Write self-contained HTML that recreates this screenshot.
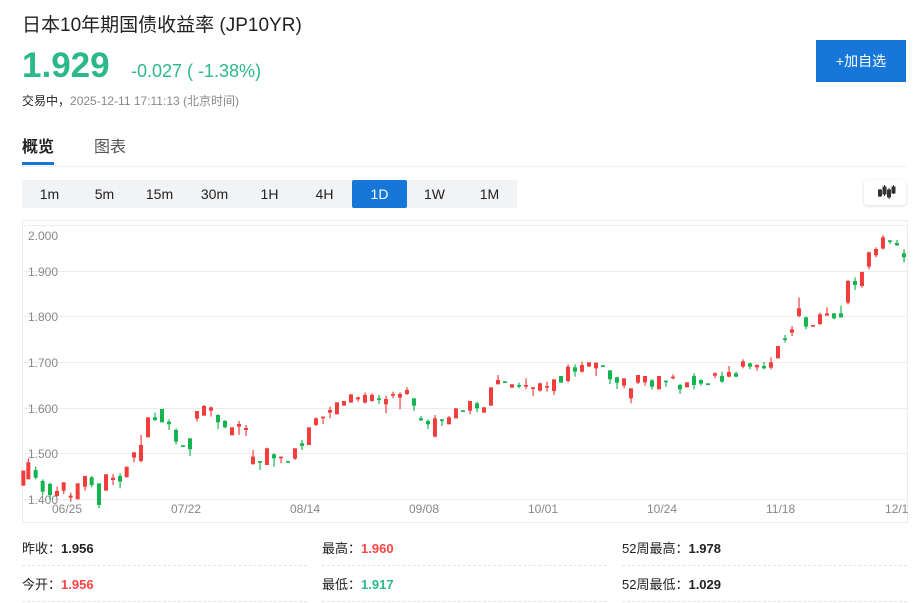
<!DOCTYPE html>
<html><head><meta charset="utf-8">
<style>
*{margin:0;padding:0;box-sizing:border-box}
body{width:924px;height:603px;background:#fff;font-family:"Liberation Sans","Noto Sans CJK SC",sans-serif;position:relative;overflow:hidden;color:#222}
.a{position:absolute;white-space:nowrap}
.tf{position:absolute;top:180px;height:28px;width:55px;background:#f2f3f5;text-align:center;line-height:28px;font-size:14px;color:#222}
.tf.on{background:#1677d9;color:#fff;border-radius:2px}
.lab{font-size:13px;color:#222}
.lab b{font-weight:bold}
.dl{position:absolute;height:0;border-top:1px dashed #e3e3e3;width:285px}
</style></head><body>
<div class="a" style="left:22px;top:10px;font-size:19px;color:#222">日本10年期国债收益率 (JP10YR)</div>
<div class="a" style="left:22px;top:46px;font-size:35px;font-weight:bold;color:#2cb88a">1.929</div>
<div class="a" style="left:131px;top:61px;font-size:18px;color:#2cb88a">-0.027 ( -1.38%)</div>
<div class="a" style="left:22px;top:92px;font-size:12px;color:#222">交易中，<span style="color:#888">2025-12-11 17:11:13 (北京时间)</span></div>
<div class="a" style="left:816px;top:40px;width:90px;height:42px;background:#1677d9;color:#fff;font-size:14px;text-align:center;line-height:42px">+加自选</div>
<div class="a" style="left:22px;top:133px;font-size:16px;font-weight:bold;color:#222">概览</div>
<div class="a" style="left:22px;top:162px;width:32px;height:3px;background:#1677d9"></div>
<div class="a" style="left:94px;top:133px;font-size:16px;color:#555">图表</div>
<div class="a" style="left:22px;top:166px;width:884px;height:1px;background:#eef0f2"></div>
<div class="tf" style="left:22px">1m</div><div class="tf" style="left:77px">5m</div><div class="tf" style="left:132px">15m</div><div class="tf" style="left:187px">30m</div><div class="tf" style="left:242px">1H</div><div class="tf" style="left:297px">4H</div><div class="tf on" style="left:352px">1D</div><div class="tf" style="left:407px">1W</div><div class="tf" style="left:462px">1M</div>
<div class="a" style="left:864px;top:180px;width:42px;height:25px;background:#fff;border-radius:3px;box-shadow:0 1px 3px rgba(0,0,0,.15)">
<svg width="42" height="25"><g fill="#333" stroke="#333" stroke-width="1"><line x1="16" y1="9" x2="16" y2="17"/><rect x="14.5" y="10" width="3" height="6"/><line x1="20.5" y1="5" x2="20.5" y2="16"/><rect x="19" y="7" width="3" height="7"/><line x1="25" y1="8" x2="25" y2="19"/><rect x="23.5" y="10" width="3" height="7"/><line x1="29.5" y1="5" x2="29.5" y2="14"/><rect x="28" y="7" width="3" height="6"/></g></svg></div>
<svg class="a" style="left:0;top:0" width="924" height="603" id="ch">
<rect x="22.5" y="220.5" width="885" height="302" fill="none" stroke="#ececec"/>
<g stroke="#ececec" stroke-width="1">
<line x1="23" x2="907" y1="225.5" y2="225.5"/><line x1="23" x2="907" y1="271.5" y2="271.5"/><line x1="23" x2="907" y1="316.5" y2="316.5"/><line x1="23" x2="907" y1="362.5" y2="362.5"/><line x1="23" x2="907" y1="408.5" y2="408.5"/><line x1="23" x2="907" y1="453.5" y2="453.5"/><line x1="23" x2="907" y1="499.5" y2="499.5"/>
</g>
<g font-size="12" fill="#888" font-family="Liberation Sans,sans-serif">
<text x="28" y="240">2.000</text><text x="28" y="276">1.900</text><text x="28" y="321">1.800</text><text x="28" y="367">1.700</text><text x="28" y="413">1.600</text><text x="28" y="458">1.500</text><text x="28" y="504">1.400</text>
<text x="52" y="513">06/25</text><text x="171" y="513">07/22</text><text x="290" y="513">08/14</text><text x="409" y="513">09/08</text><text x="528" y="513">10/01</text><text x="647" y="513">10/24</text><text x="766" y="513">11/18</text><text x="885" y="513">12/1</text>
</g>
<g id="c1" transform="translate(20,220) scale(0.3333)"></g>
<g id="c2" transform="translate(460,220) scale(0.3333)"></g>
</svg>
<div class="a lab" style="left:22px;top:538px">昨收：<b>1.956</b></div>
<div class="a lab" style="left:322px;top:538px">最高：<b style="color:#f44">1.960</b></div>
<div class="a lab" style="left:622px;top:538px">52周最高：<b>1.978</b></div>
<div class="a lab" style="left:22px;top:574px">今开：<b style="color:#f44">1.956</b></div>
<div class="a lab" style="left:322px;top:574px">最低：<b style="color:#2cb88a">1.917</b></div>
<div class="a lab" style="left:622px;top:574px">52周最低：<b>1.029</b></div>
<div class="dl" style="left:22px;top:565px"></div><div class="dl" style="left:322px;top:565px"></div><div class="dl" style="left:622px;top:565px"></div>
<div class="dl" style="left:22px;top:601px"></div><div class="dl" style="left:322px;top:601px"></div><div class="dl" style="left:622px;top:601px"></div>
<script>
var A=[[10,'r',752,797,752,797],[25,'r',727,778,715,778],[47,'g',750,773,740,778],[68,'g',783,815,778,825],[90,'g',792,825,788,840],[111,'r',813,828,800,830],[131,'r',787,812,787,822],[152,'r',827,833,818,845],[173,'r',790,838,790,838],[195,'r',768,800,768,812],[215,'g',772,795,768,802],[237,'g',790,855,790,865],[258,'r',763,812,763,812],[279,'r',773,780,762,795],[300,'g',768,785,760,805],[320,'r',740,772,740,772],[342,'r',697,713,697,727],[363,'r',675,723,645,727],[384,'r',592,652,592,652],[405,'g',592,600,578,603],[426,'g',567,607,567,607],[447,'g',605,613,598,630],[468,'g',630,665,625,673],[489,'g',676,677,676,677],[510,'g',655,688,655,708],[531,'r',573,596,573,605],[552,'r',558,587,555,587],[573,'r',562,572,560,590],[594,'g',585,607,583,628],[615,'g',603,622,600,625],[636,'r',622,646,622,646],[657,'r',612,620,603,645],[678,'r',624,630,615,648],[699,'r',710,733,690,733],[720,'g',723,724,723,750],[741,'r',685,735,683,735],[762,'g',703,715,700,740],[783,'r',710,711,710,730],[804,'g',723,724,723,724],[825,'r',685,716,685,720],[846,'g',670,678,660,690],[867,'r',622,675,622,675],[888,'r',595,615,592,618],[909,'r',590,591,590,612],[930,'r',570,578,560,595],[951,'r',547,583,547,583],[972,'r',543,557,543,557],[993,'r',523,548,523,548],[1014,'r',532,538,530,545],[1035,'r',525,548,518,550],[1056,'r',525,543,520,545],[1077,'g',535,540,525,552],[1098,'r',537,553,527,580],[1119,'r',522,523,515,535],[1140,'r',522,533,517,568],[1161,'r',510,522,502,525],[1182,'g',535,557,535,573],[1203,'g',595,601,588,603],[1224,'g',603,613,598,627],[1245,'r',595,650,585,652],[1266,'g',598,599,598,618],[1287,'r',592,613,588,613],[1308,'r',565,595,565,595],[1329,'g',571,572,571,572]];
var B=[[30,'r',543,572,543,583],[51,'g',550,565,545,577],[72,'r',562,578,562,578],[93,'r',502,557,502,557],[114,'r',480,493,465,493],[135,'g',484,485,484,485],[156,'r',493,503,493,503],[177,'g',495,500,488,505],[198,'r',495,500,475,508],[219,'r',502,507,502,528],[240,'r',490,512,488,515],[261,'r',498,503,485,515],[282,'r',478,513,478,525],[303,'g',468,488,468,488],[324,'r',440,483,433,488],[345,'g',442,455,433,470],[366,'r',435,455,425,458],[387,'r',427,440,427,440],[408,'r',428,445,428,468],[429,'g',436,437,436,437],[450,'g',451,478,451,492],[471,'g',472,488,470,507],[492,'r',475,497,475,505],[513,'r',505,535,505,550],[534,'r',465,488,465,492],[555,'r',468,487,468,497],[576,'g',481,500,478,508],[597,'r',468,508,468,508],[618,'g',482,483,482,500],[639,'r',470,471,463,478],[660,'g',495,508,492,522],[681,'r',487,502,487,502],[702,'g',468,495,460,508],[723,'g',480,491,478,497],[744,'g',490,491,490,491],[765,'r',460,467,457,475],[786,'g',468,485,455,488],[807,'r',456,470,438,472],[828,'g',460,470,455,472],[849,'r',424,440,418,445],[870,'g',430,440,428,448],[891,'r',435,442,433,452],[912,'g',438,445,425,448],[933,'r',427,443,412,448],[954,'r',378,415,378,415],[975,'g',355,358,345,368],[996,'r',328,338,318,348],[1017,'r',265,288,232,292],[1038,'g',292,320,290,328],[1059,'r',315,316,315,316],[1080,'r',283,312,278,315],[1101,'r',280,287,262,287],[1122,'g',280,295,280,298],[1143,'g',280,292,257,293],[1164,'r',183,248,180,253],[1185,'g',183,195,172,210],[1206,'r',156,198,155,203],[1227,'r',97,140,95,148],[1248,'r',87,106,82,112],[1269,'r',52,86,45,88],[1290,'g',61,64,61,72],[1311,'g',69,76,60,78],[1332,'g',100,112,88,128]];
function draw(id,arr){var s='';arr.forEach(function(c){var col=c[1]=='r'?'#f23d3d':'#14b450';var h=Math.max(c[3]-c[2],5);
s+='<rect x="'+(c[0]-1.5)+'" y="'+c[4]+'" width="3.5" height="'+Math.max(c[5]-c[4],5)+'" fill="'+col+'"/>';
s+='<rect x="'+(c[0]-6)+'" y="'+c[2]+'" width="12" height="'+h+'" fill="'+col+'"/>';});
document.getElementById(id).innerHTML=s;}
draw('c1',A);draw('c2',B);
</script>
</body></html>
